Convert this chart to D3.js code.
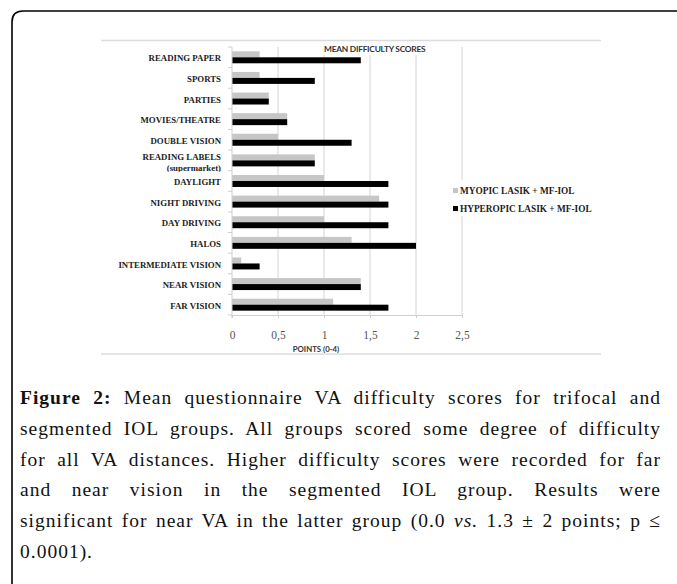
<!DOCTYPE html>
<html>
<head>
<meta charset="utf-8">
<script src="https://cdn.jsdelivr.net/npm/d3@7"></script>
<style>
  body { margin: 0; background: #fff; }
  #wrap { position: relative; width: 677px; height: 584px; overflow: hidden; }
  svg { position: absolute; left: 0; top: 0; }
  .caption { position: absolute; left: 20px; width: 641px; font-family: "Liberation Serif", serif; font-size: 19.5px; letter-spacing: 1.0px; color: #111; }
  .caption div { height: 30.8px; line-height: 30.8px; white-space: nowrap; }
  .caption .j { text-align: justify; text-align-last: justify; white-space: normal; }
</style>
</head>
<body>
<div id="wrap"></div>
<script>
// categories top to bottom as shown
const categories = ["READING PAPER", "SPORTS", "PARTIES", "MOVIES/THEATRE", "DOUBLE VISION",
  "READING LABELS", "DAYLIGHT", "NIGHT DRIVING", "DAY DRIVING", "HALOS",
  "INTERMEDIATE VISION", "NEAR VISION", "FAR VISION"];
const myopic    = [0.3, 0.3, 0.4, 0.6, 0.5, 0.9, 1.0, 1.6, 1.0, 1.3, 0.1, 1.4, 1.1];
const hyperopic = [1.4, 0.9, 0.4, 0.6, 1.3, 0.9, 1.7, 1.7, 1.7, 2.0, 0.3, 1.4, 1.7];
const xTicks = [0, 0.5, 1, 1.5, 2, 2.5];
const xTickLabels = ["0", "0,5", "1", "1,5", "2", "2,5"];
const seriesNames = ["MYOPIC LASIK + MF-IOL", "HYPEROPIC LASIK + MF-IOL"];
const seriesColors = ["#c6c6c6", "#000000"];

const wrap = d3.select("#wrap");
const svg = wrap.append("svg").attr("width", 677).attr("height", 584);

// outer figure frame with rounded top-left corner
svg.append("path")
  .attr("d", "M12,600 L12,22 Q12,11 23,11 L690,11")
  .attr("fill", "none").attr("stroke", "#000").attr("stroke-width", 1.6);

// chart picture border lines
svg.append("line").attr("x1", 101).attr("x2", 601).attr("y1", 40.5).attr("y2", 40.5)
  .attr("stroke", "#dcdcdc").attr("stroke-width", 1.5);
svg.append("line").attr("x1", 101).attr("x2", 601).attr("y1", 354).attr("y2", 354)
  .attr("stroke", "#dcdcdc").attr("stroke-width", 1.5);

const x = d3.scaleLinear().domain([0, 2.5]).range([232, 462]);
const y = d3.scaleBand().domain(categories).range([47, 315]).paddingInner(0.42).paddingOuter(0.21);

// gridlines
svg.append("g").selectAll("line").data(xTicks.slice(1)).join("line")
  .attr("x1", d => x(d)).attr("x2", d => x(d))
  .attr("y1", 47).attr("y2", 315)
  .attr("stroke", "#d4d4d4").attr("stroke-width", 1);

// x axis
const xAxis = svg.append("g").attr("transform", "translate(0,315)")
  .call(d3.axisBottom(x).tickValues(xTicks).tickFormat((d, i) => xTickLabels[i]).tickSize(3).tickPadding(13));
xAxis.select(".domain").attr("stroke", "#cfcfcf");
xAxis.selectAll(".tick line").attr("stroke", "#cfcfcf");
xAxis.selectAll("text").attr("font-family", "Liberation Serif, serif").attr("font-size", 11.5).attr("fill", "#555");

// bars
const half = y.bandwidth() / 2;
svg.append("g").selectAll("rect").data(categories).join("rect")
  .attr("x", x(0)).attr("y", d => y(d))
  .attr("width", (d, i) => x(myopic[i]) - x(0)).attr("height", half)
  .attr("fill", seriesColors[0]);
svg.append("g").selectAll("rect").data(categories).join("rect")
  .attr("x", x(0)).attr("y", d => y(d) + half)
  .attr("width", (d, i) => x(hyperopic[i]) - x(0)).attr("height", half)
  .attr("fill", seriesColors[1]);

// y axis with ticks at band boundaries
const step = y.step();
const bounds = d3.range(categories.length + 1).map(i => 47 + i * step);
svg.append("line").attr("x1", 232).attr("x2", 232).attr("y1", 47).attr("y2", 318)
  .attr("stroke", "#cfcfcf");
svg.append("g").selectAll("line").data(bounds).join("line")
  .attr("x1", 228).attr("x2", 232).attr("y1", d => d).attr("y2", d => d)
  .attr("stroke", "#cfcfcf");

// category labels
svg.append("defs").append("clipPath").attr("id", "lblclip")
  .append("rect").attr("x", 0).attr("y", 0).attr("width", 230).attr("height", 171.8);
svg.append("g").selectAll("text").data(categories).join("text")
  .attr("x", 221).attr("y", d => y(d) + half + 1)
  .attr("dy", d => d === "READING LABELS" ? "-0.15em" : "0.35em")
  .attr("text-anchor", "end")
  .attr("font-family", "Liberation Serif, serif").attr("font-weight", "bold")
  .attr("font-size", 8.8).attr("fill", "#222")
  .text(d => d);
svg.append("text").attr("clip-path", "url(#lblclip)")
  .attr("x", 221).attr("y", y("READING LABELS") + half + 1).attr("dy", "1.1em")
  .attr("text-anchor", "end")
  .attr("font-family", "Liberation Serif, serif").attr("font-weight", "bold")
  .attr("font-size", 8.8).attr("fill", "#222")
  .text("(supermarket)");

// title with white background
svg.append("rect").attr("x", 320).attr("y", 42).attr("width", 108).attr("height", 13).attr("fill", "#fff");
svg.append("text").attr("x", 324).attr("y", 52)
  .attr("font-family", "Lato, sans-serif").attr("font-weight", "bold")
  .attr("font-size", 8.4).attr("fill", "#333").attr("letter-spacing", -0.25)
  .text("MEAN DIFFICULTY SCORES");

// axis title
svg.append("text").attr("x", 316).attr("y", 352)
  .attr("text-anchor", "middle")
  .attr("font-family", "Lato, sans-serif").attr("font-weight", "bold")
  .attr("font-size", 7.8).attr("fill", "#333")
  .text("POINTS (0-4)");

// legend
const legend = svg.append("g");
legend.append("rect").attr("x", 440).attr("y", 180).attr("width", 155).attr("height", 36).attr("fill", "#fff");
const items = legend.selectAll("g").data(seriesNames).join("g")
  .attr("transform", (d, i) => `translate(453,${191 + i * 18})`);
items.append("rect").attr("x", 0).attr("y", -3).attr("width", 5).attr("height", 5)
  .attr("fill", (d, i) => seriesColors[i]);
items.append("text").attr("x", 7).attr("y", 0).attr("dy", "0.35em")
  .attr("font-family", "Liberation Serif, serif").attr("font-weight", "bold")
  .attr("font-size", 9.3).attr("fill", "#222")
  .text(d => d);

// caption
const cap = wrap.append("div").attr("class", "caption").style("top", "383px");
const lines = [
  ["j", "<b>Figure 2:</b> Mean questionnaire VA difficulty scores for trifocal and"],
  ["j", "segmented IOL groups. All groups scored some degree of difficulty"],
  ["j", "for all VA distances. Higher difficulty scores were recorded for far"],
  ["j", "and near vision in the segmented IOL group. Results were"],
  ["j", "significant for near VA in the latter group (0.0 <i>vs.</i> 1.3 ± 2 points; p ≤"],
  ["", "0.0001)."]
];
cap.selectAll("div").data(lines).join("div")
  .attr("class", d => d[0])
  .html(d => d[1]);
</script>
</body>
</html>
